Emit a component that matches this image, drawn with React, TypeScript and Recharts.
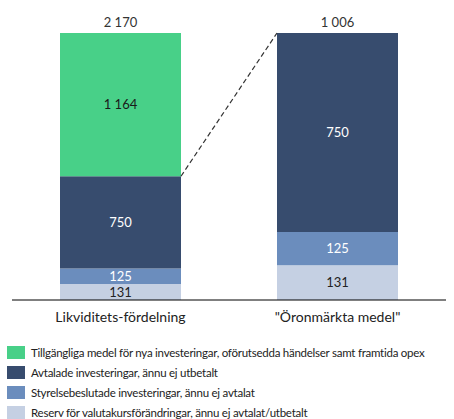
import React from "react";
import { BarChart, Bar, XAxis, YAxis, LabelList, ReferenceLine } from "recharts";

const categories = ["Likviditets-fördelning", "\"Öronmärkta medel\""];
const seriesNames = [
  "Tillgängliga medel för nya investeringar, oförutsedda händelser samt framtida opex",
  "Avtalade investeringar, ännu ej utbetalt",
  "Styrelsebeslutade investeringar, ännu ej avtalat",
  "Reserv för valutakursförändringar, ännu ej avtalat/utbetalt",
];
const tillgangliga = [1164, null];
const avtalade = [750, 750];
const styrelse = [125, 125];
const reserv = [131, 131];
const totals = [2170, 1006];

const FONT = "Lato, 'Open Sans', sans-serif";
const W = 454;
const H = 340;
const M = { top: 33, right: 8, left: 12, bottom: 10 };
const BAND = (W - M.left - M.right) / categories.length;
const GAP = 48;
const HALF_BAR = (BAND - 2 * GAP) / 2 / BAND;

// stacking order bottom -> top
const series = [
  { key: "reserv", name: seriesNames[3], values: reserv, color: "#C5D0E3", text: "#222222" },
  { key: "styrelse", name: seriesNames[2], values: styrelse, color: "#6B8DBD", text: "#FFFFFF" },
  { key: "avtalade", name: seriesNames[1], values: avtalade, color: "#374C6E", text: "#FFFFFF" },
  { key: "tillg", name: seriesNames[0], values: tillgangliga, color: "#48D088", text: "#1A1A1A" },
];

const fmt = (v: any) =>
  v == null ? "" : String(v).replace(/\B(?=(\d{3})+(?!\d))/g, " ");

const rows = categories.map((name, i) => {
  const row: any = { name, pos: i + 0.5 };
  series.forEach((s) => {
    categories.forEach((_, j) => {
      row[`${s.key}_${j}`] = i === j ? s.values[i] : null;
    });
  });
  return row;
});

// top of each stack (last non-null series)
const topKey = categories.map((_, j) => {
  let k = "";
  series.forEach((s) => {
    if (s.values[j] != null) k = s.key;
  });
  return k;
});

const TotalLabel = (j: number) => (props: any) => {
  if (props.value == null || props.value === "") return null;
  const vb = props.viewBox || props;
  return (
    <text x={vb.x + vb.width / 2} y={vb.y - 6} textAnchor="middle" fontSize={13} fill="#333" fontFamily={FONT}>
      {fmt(totals[j])}
    </text>
  );
};

export default function App() {
  return (
    <div style={{ position: "relative", width: W, height: 419, fontFamily: FONT }}>
      <style>{`body{margin:0}`}</style>
      <BarChart width={W} height={H} data={rows} margin={M} barCategoryGap={GAP}>
        <XAxis
          xAxisId="x0"
          dataKey="name"
          tickLine={false}
          axisLine={{ stroke: "#000", strokeWidth: 1 }}
          tickMargin={6}
          tick={{ fontSize: 14, fill: "#222", fontFamily: FONT }}
          interval={0}
          height={30}
        />
        <XAxis xAxisId="x1" dataKey="name" orientation="top" hide />
        <XAxis
          xAxisId="num"
          dataKey="pos"
          type="number"
          orientation="top"
          domain={[0, categories.length]}
          allowDataOverflow
          hide
        />
        <YAxis yAxisId="y0" domain={[0, totals[0]]} hide />
        <YAxis yAxisId="y1" domain={[0, totals[1]]} hide />
        {categories.map((_, j) =>
          series.map((s) => (
            <Bar
              key={`${s.key}_${j}`}
              dataKey={`${s.key}_${j}`}
              stackId={`s${j}`}
              xAxisId={`x${j}`}
              yAxisId={`y${j}`}
              fill={s.color}
              isAnimationActive={false}
            >
              <LabelList
                dataKey={`${s.key}_${j}`}
                position="center"
                fill={s.text}
                fontSize={13}
                fontFamily={FONT}
                formatter={fmt}
              />
              {topKey[j] === s.key && <LabelList dataKey={`${s.key}_${j}`} content={TotalLabel(j)} />}
            </Bar>
          ))
        )}
        <ReferenceLine
          xAxisId="num"
          yAxisId="y0"
          ifOverflow="visible"
          segment={[
            { x: 0.5 + HALF_BAR, y: reserv[0] + styrelse[0] + avtalade[0] },
            { x: 1.5 - HALF_BAR, y: totals[0] },
          ]}
          stroke="#333"
          strokeWidth={1.2}
          strokeDasharray="5 3"
        />
      </BarChart>
      <div style={{ position: "absolute", left: 7, top: 342 }}>
        {series
          .slice()
          .reverse()
          .map((s) => (
            <div key={s.key} style={{ display: "flex", alignItems: "center", height: 20 }}>
              <span style={{ width: 18, height: 13, background: s.color, display: "inline-block", marginRight: 6 }} />
              <span style={{ fontSize: 11.5, letterSpacing: -0.25, color: "#222", whiteSpace: "nowrap" }}>{s.name}</span>
            </div>
          ))}
      </div>
    </div>
  );
}
